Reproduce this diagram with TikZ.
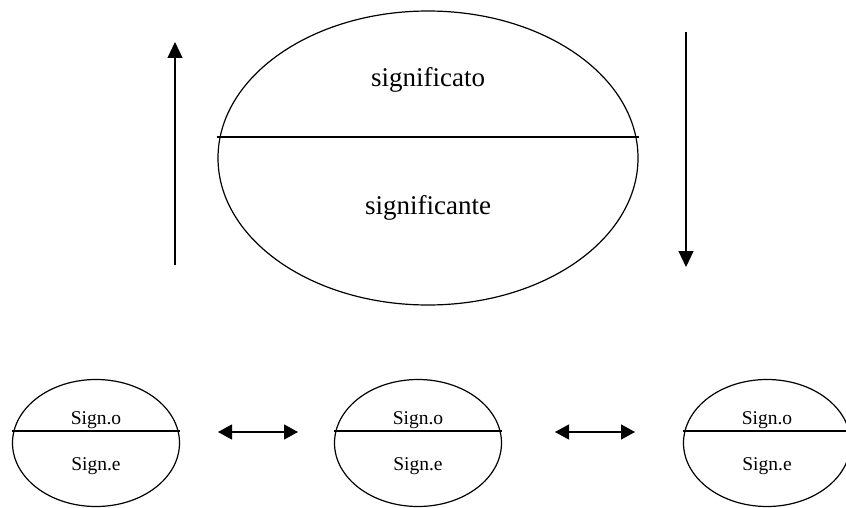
\documentclass[tikz,border=0pt]{standalone}
\usepackage{fontspec}
\setmainfont{Liberation Serif}
\usetikzlibrary{shapes.geometric,arrows.meta}
\begin{document}
\begin{tikzpicture}[x=1pt,y=-1pt,
  line width=1.2pt,
  bigell/.style={draw,ellipse,inner sep=0pt,minimum width=420pt,minimum height=294pt},
  smallell/.style={draw,ellipse,inner sep=0pt,minimum width=167pt,minimum height=127pt},
  bigtxt/.style={font=\fontsize{27}{30}\selectfont,inner sep=0pt},
  smalltxt/.style={font=\fontsize{19.5}{22}\selectfont,inner sep=0pt},
  arr/.style={-{Triangle[width=15pt,length=16pt]}},
  darr/.style={{Triangle[width=15pt,length=14pt]}-{Triangle[width=15pt,length=14pt]}}]
\useasboundingbox (0,0) rectangle (846,508);
\begin{scope}
\clip (0,0) rectangle (846,508);
% big sign
\node[bigell] (big) at (428,158) {};
\coordinate (bl) at (217,137);
\coordinate (br) at (639,137);
\draw (bl) -- (br);
\node[bigtxt] (sto) at (428,80) {significato};
\node[bigtxt] (ste) at (428,208) {significante};
% vertical arrows
\coordinate (ua) at (175,265);
\coordinate (ub) at (175,42);
\draw[arr] (ua) -- (ub);
\coordinate (da) at (686,32);
\coordinate (db) at (686,267);
\draw[arr] (da) -- (db);
% small signs
\node[smallell] (s1) at (96,443) {};
\node[smallell] (s2) at (418,443) {};
\node[smallell] (s3) at (767,443) {};
\foreach \n in {s1,s2,s3}{
  \draw ([xshift=-84pt,yshift=12pt]\n.center) -- ([xshift=84pt,yshift=12pt]\n.center);
}
\node[smalltxt] (o1) at (96,420) {Sign.o};
\node[smalltxt] (e1) at (96,466) {Sign.e};
\node[smalltxt] (o2) at (418,420) {Sign.o};
\node[smalltxt] (e2) at (418,466) {Sign.e};
\node[smalltxt] (o3) at (767,420) {Sign.o};
\node[smalltxt] (e3) at (767,466) {Sign.e};
% double arrows
\coordinate (a1l) at (218,432);
\coordinate (a1r) at (298,432);
\draw[darr] (a1l) -- (a1r);
\coordinate (a2l) at (555,432);
\coordinate (a2r) at (635,432);
\draw[darr] (a2l) -- (a2r);
\end{scope}
\end{tikzpicture}
\end{document}
